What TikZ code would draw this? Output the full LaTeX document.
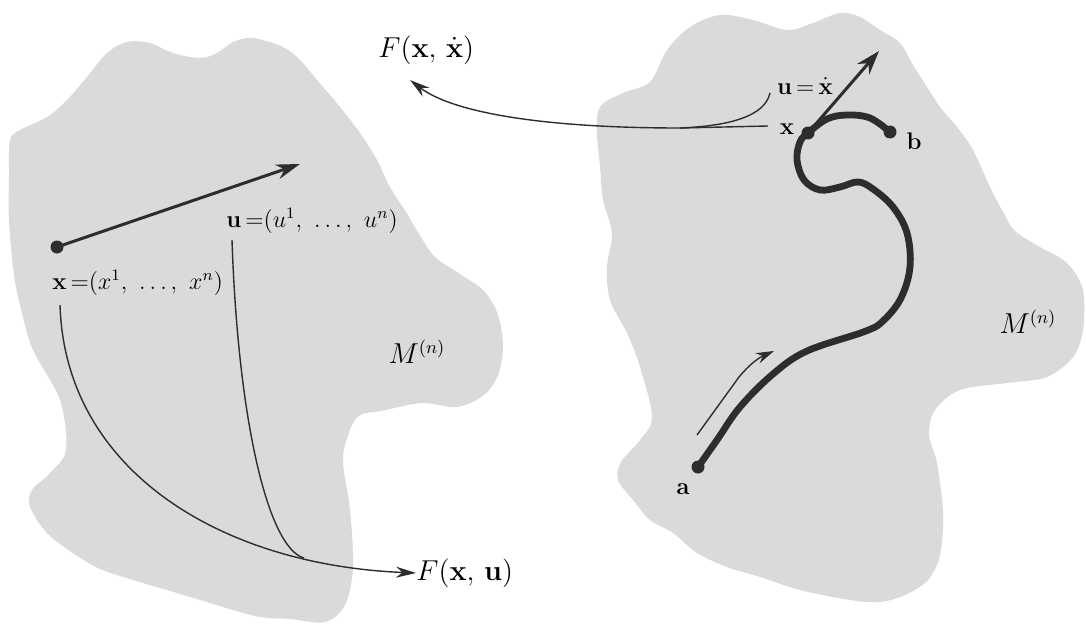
\documentclass[tikz,border=0pt]{standalone}
\usetikzlibrary{arrows.meta}
\definecolor{blobgray}{RGB}{218,218,218}
\definecolor{ink}{RGB}{45,45,45}
\begin{document}
\begin{tikzpicture}[x=0.5pt,y=-0.5pt,
  blob/.style={fill=blobgray,draw=none},
  dot/.style={circle,fill=ink,inner sep=0pt,minimum size=6.5pt},
  thin/.style={draw=ink,line width=0.7pt},
  thickarrow/.style={draw=ink,line width=1.5pt,-{Stealth[length=12pt,width=7.5pt]}},
  thinarrow/.style={draw=ink,line width=0.7pt,-{Stealth[length=10pt,width=5.5pt]}},
  pathline/.style={draw=ink,line width=3.4pt,line cap=round,line join=round},
  biglbl/.style={inner sep=0pt,font=\fontsize{15}{18}\selectfont},
  mlbl/.style={inner sep=0pt,font=\fontsize{13.5}{16}\selectfont},
  lbl/.style={inner sep=0pt,font=\fontsize{12}{14}\selectfont},
  smlbl/.style={inner sep=0pt,font=\fontsize{11.5}{14}\selectfont}]
\useasboundingbox (0,0) rectangle (1086,626);

% ---------- left blob ----------
\path[blob] plot[smooth cycle,tension=0.55] coordinates {
 (10,140) (20,130) (47,117) (67,100) (87,77) (107,53) (127,42) (150,43)
 (173,53) (200,58) (217,53) (233,42) (253,38) (283,47) (300,60) (317,80)
 (340,107) (360,133) (377,160) (390,187) (406,212) (419,234) (435,257)
 (460,274) (484,291) (498,315) (503,347) (498,375) (484,395) (457,407)
 (422,403) (381,411) (360,415) (350,430) (343,460) (350,510)
 (353,567) (345,605) (325,622) (290,619) (260,617) (233,610) (200,600) (167,590)
 (133,580) (100,569) (73,553) (47,533) (30,507) (32,490) (50,473) (66,450)
 (60,400) (33,350) (22,313) (14,275) (9,220) (9,175)};

% ---------- right blob ----------
\path[blob] plot[smooth cycle,tension=0.55] coordinates {
 (600,107) (623,93) (650,82) (667,50) (690,27) (720,15) (753,20) (787,30)
 (813,23) (840,13) (860,17) (880,30) (900,43) (913,65) (927,87) (940,107)
 (957,127) (973,150) (990,187) (1002,210) (1015,231) (1040,247) (1067,263)
 (1083,290) (1083,330) (1073,357) (1047,377) (1007,383) (960,390) (935,410)
 (929,435) (937,463) (943,513) (940,555) (928,580) (905,595) (880,602)
 (850,600) (800,590) (760,577) (727,567)
 (697,553) (673,533) (650,520) (633,500) (618,480) (621,462) (640,440)
 (652,417) (640,367) (627,333) (610,300) (607,267) (612,233) (603,200)
 (600,167) (597,133)};

% ---------- left figure ----------
\node[dot] (p) at (57,247) {};
\coordinate (utip) at (300,164);
\draw[thickarrow] (p.center) -- (utip);
\node[lbl,anchor=west] (xlab) at (52,283) {$\mathbf{x}\,{=}(x^1,\ \ldots,\ x^n)$};
\node[lbl,anchor=west] (ulab) at (226,221) {$\mathbf{u}\,{=}(u^1,\ \ldots,\ u^n)$};
\node[mlbl] (mleft) at (417,352) {$M^{(n)}$};
\node[biglbl,anchor=west] (Fxu) at (416,573) {$F(\mathbf{x},\,\mathbf{u})$};
\coordinate (xs) at (60,305);
\coordinate (us) at (232,240);
\coordinate (merge1) at (304,558);
\draw[thinarrow] (xs) .. controls (65,470) and (220,565) .. (Fxu.west);
\draw[thin] (us) .. controls (238,420) and (268,548) .. (merge1);

% ---------- right figure ----------
\node[dot] (a) at (698,467) {};
\node[dot] (b) at (890,132) {};
\node[dot] (xp) at (808,133) {};
\draw[pathline] plot[smooth,tension=0.6] coordinates {
 (698,467) (717,440) (740,407) (773,374) (807,351) (866,331) (884,320)
 (901,298) (910,267) (907,233) (893,207) (873,189) (858,182) (840,187)
 (820,190) (804,180) (797,160) (800,142) (808,133) (827,119) (847,115)
 (870,118) (890,132)};
\coordinate (vtip) at (879,51);
\draw[draw=ink,line width=1.5pt,-{Stealth[length=12pt,width=8pt]}] (xp.center) -- (vtip);
\coordinate (sa) at (697,435);
\coordinate (stip) at (774,351);
\draw[draw=ink,line width=0.7pt,-{Stealth[length=9pt,width=5.5pt]}] (sa) -- (739,377) .. controls (748,366) and (758,358) .. (stip);
\node[lbl] (alab) at (683,489) {$\mathbf{a}$};
\node[lbl] (blab) at (914,141) {$\mathbf{b}$};
\node[lbl] (xlab2) at (787,129) {$\mathbf{x}$};
\node[smlbl] (uxlab) at (805,86) {$\mathbf{u}\,{=}\,\dot{\mathbf{x}}$};
\node[mlbl] (mright) at (1028,322) {$M^{(n)}$};
\node[biglbl,anchor=west] (Fxx) at (378,50) {$F(\mathbf{x},\,\dot{\mathbf{x}})$};
\coordinate (xe) at (768,126);
\coordinate (ue) at (770,93);
\coordinate (merge2) at (680,128);
\coordinate (ftip) at (410,80);
\draw[thinarrow] (xe) -- (merge2) .. controls (540,128) and (452,112) .. (ftip);
\draw[thin] (ue) .. controls (765,116) and (730,126) .. (merge2);
\end{tikzpicture}
\end{document}
